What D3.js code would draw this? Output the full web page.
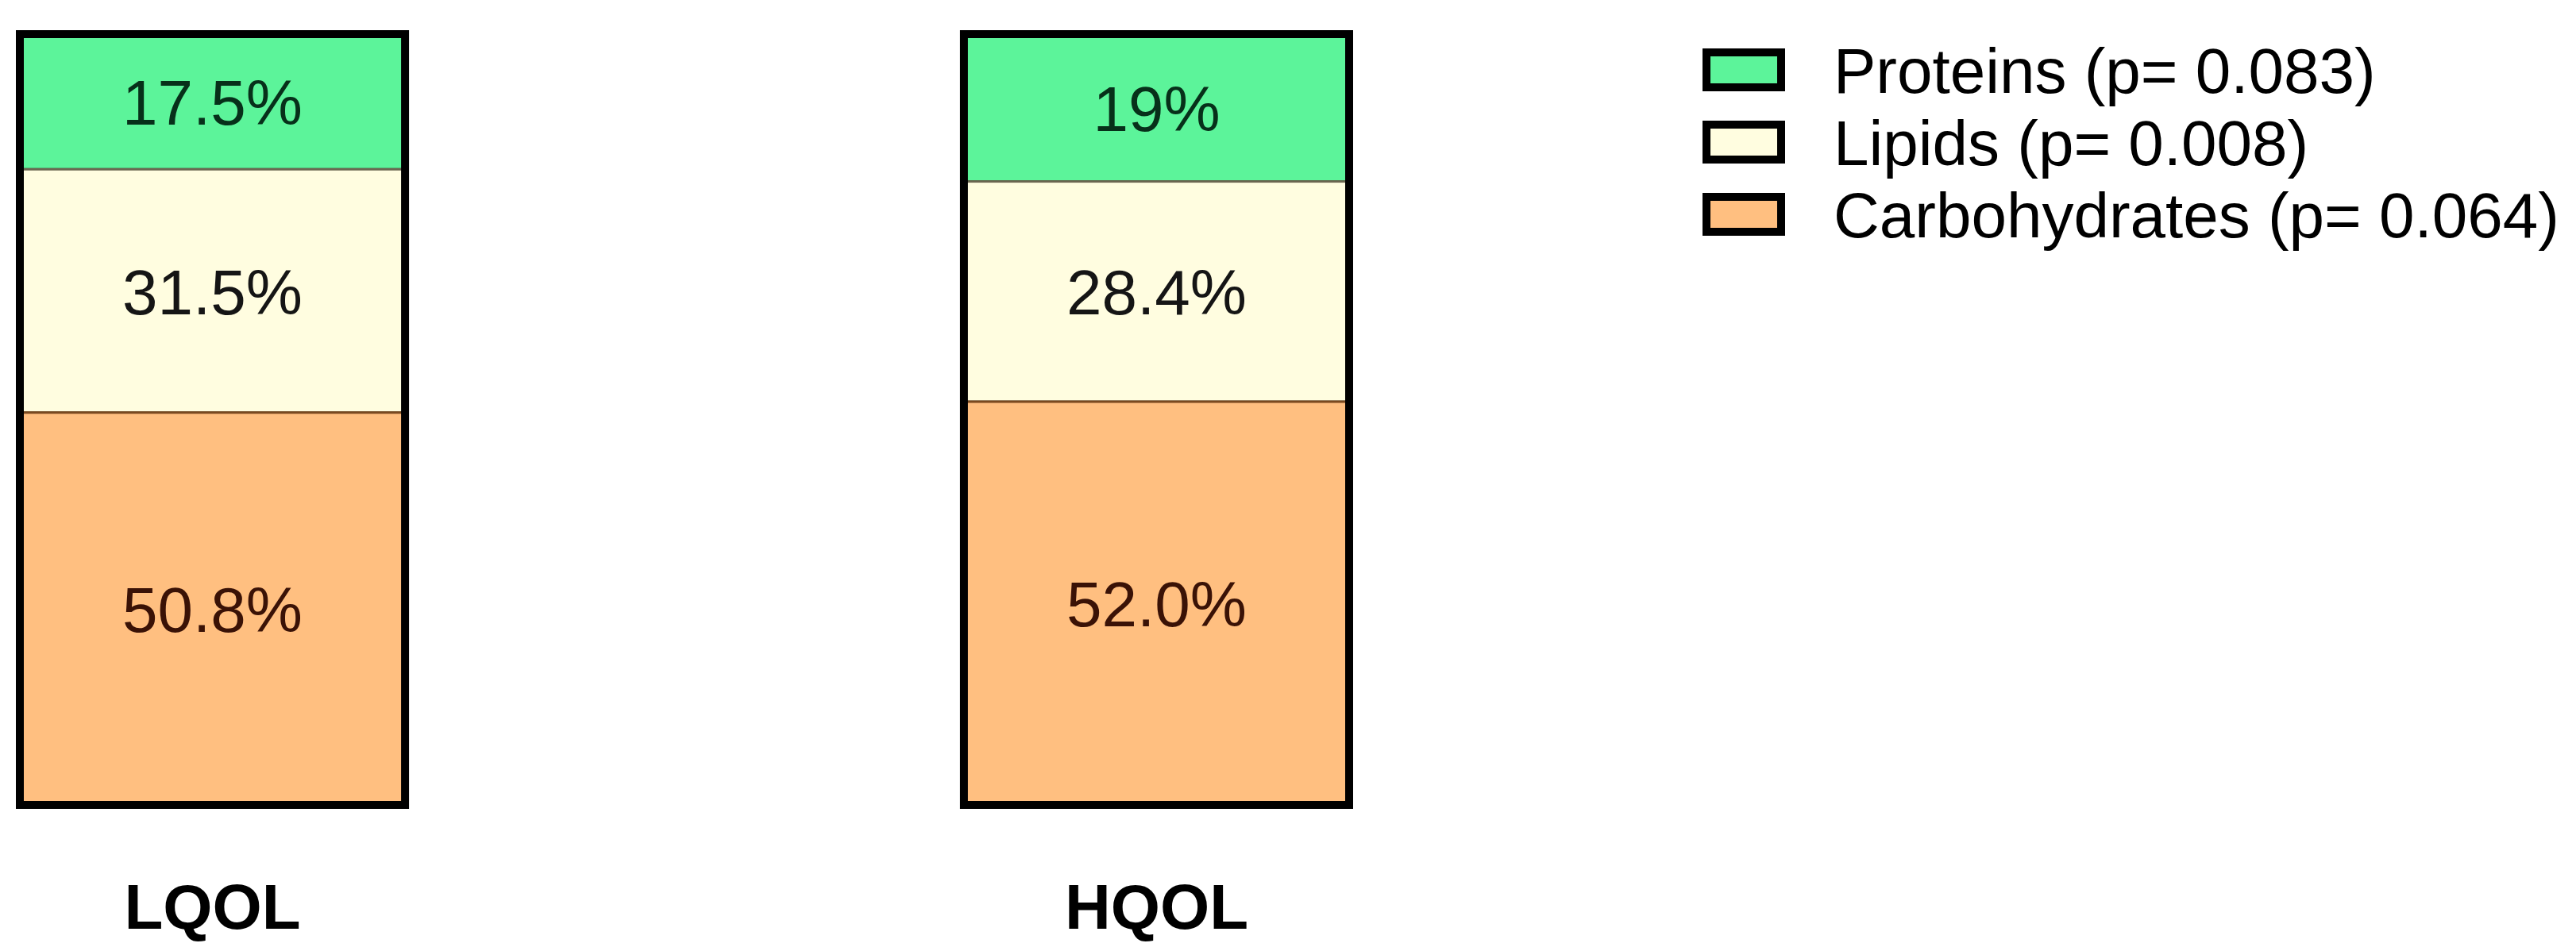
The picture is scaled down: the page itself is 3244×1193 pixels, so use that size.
<!DOCTYPE html>
<html>
<head>
<meta charset="utf-8">
<script src="https://cdn.jsdelivr.net/npm/d3@7"></script>
<style>
  body { margin: 0; background: #fff; }
  text { font-family: "Liberation Sans", Arial, sans-serif; }
</style>
</head>
<body>
<script>
var width = 3244,
    height = 1193;

// data
var groups = ["LQOL", "HQOL"];
var nutrients = ["Proteins", "Lipids", "Carbohydrates"]; // top to bottom
var pValues = ["0.083", "0.008", "0.064"];
var proteins = [17.5, 19.0];
var lipids = [31.5, 28.4];
var carbohydrates = [50.8, 52.0];
var valueLabels = [["17.5%", "19%"], ["31.5%", "28.4%"], ["50.8%", "52.0%"]];

var fills = ["#5cf49a", "#fffde0", "#ffbf80"];
var edges = ["#1e6b3c", "#6b6650", "#7a4a20"]; // thin line between parts
var inks = ["#07301a", "#151515", "#3a1206"];

var rows = groups.map(function (g, i) {
    return { group: g, Proteins: proteins[i], Lipids: lipids[i], Carbohydrates: carbohydrates[i] };
});

var stack = d3.stack()
    .keys(nutrients)
    .offset(d3.stackOffsetExpand); //each bar fills the whole height
var series = stack(rows);

var x = d3.scaleBand()
    .domain(groups)
    .range([25, 1699])
    .paddingInner(0.592)
    .paddingOuter(0);

var y = d3.scaleLinear()
    .domain([0, 1])
    .range([43, 1014]); //proteins start at the top

var color = d3.scaleOrdinal().domain(nutrients).range(fills);

var svg = d3.select("body").append("svg")
    .attr("width", width)
    .attr("height", height);

var layer = svg.selectAll(".layer")
    .data(series)
    .enter().append("g")
    .attr("class", "layer");

layer.selectAll("rect")
    .data(function (s, k) { return s.map(function (d) { return { d: d, k: k }; }); })
    .enter().append("rect")
    .attr("x", function (p) { return x(p.d.data.group); })
    .attr("y", function (p) { return y(p.d[0]); })
    .attr("width", x.bandwidth())
    .attr("height", function (p) { return y(p.d[1]) - y(p.d[0]); })
    .style("fill", function (p) { return color(nutrients[p.k]); })
    .style("stroke", function (p) { return edges[p.k]; })
    .style("stroke-width", 3);

// percentage in the middle of each part
layer.selectAll("text")
    .data(function (s, k) { return s.map(function (d, i) { return { d: d, k: k, i: i }; }); })
    .enter().append("text")
    .attr("x", function (p) { return x(p.d.data.group) + x.bandwidth() / 2; })
    .attr("y", function (p) { return (y(p.d[0]) + y(p.d[1])) / 2 + 29; })
    .attr("text-anchor", "middle")
    .style("font-size", "80px")
    .style("fill", function (p) { return inks[p.k]; })
    .text(function (p) { return valueLabels[p.k][p.i]; });

// heavy frame round each bar
svg.selectAll(".frame")
    .data(groups)
    .enter().append("rect")
    .attr("class", "frame")
    .attr("x", function (g) { return x(g); })
    .attr("y", y(0))
    .attr("width", x.bandwidth())
    .attr("height", y(1) - y(0))
    .style("fill", "none")
    .style("stroke", "#000")
    .style("stroke-width", 10);

// group names under the bars
svg.selectAll(".group-label")
    .data(groups)
    .enter().append("text")
    .attr("class", "group-label")
    .attr("x", function (g) { return x(g) + x.bandwidth() / 2; })
    .attr("y", 1170)
    .attr("text-anchor", "middle")
    .style("font-size", "80px")
    .style("font-weight", "bold")
    .style("fill", "#000")
    .text(function (g) { return g; });

// legend
var legend = svg.selectAll(".legend")
    .data(nutrients)
    .enter().append("g")
    .attr("class", "legend")
    .attr("transform", function (d, i) { return "translate(2149," + (88 + i * 91) + ")"; });

legend.append("rect")
    .attr("x", 0)
    .attr("y", -22)
    .attr("width", 94)
    .attr("height", 44)
    .style("fill", function (d) { return color(d); })
    .style("stroke", "#000")
    .style("stroke-width", 10);

legend.append("text")
    .attr("x", 160)
    .attr("y", 29)
    .style("font-size", "80px")
    .style("fill", "#000")
    .text(function (d, i) { return d + " (p= " + pValues[i] + ")"; });
</script>
</body>
</html>
